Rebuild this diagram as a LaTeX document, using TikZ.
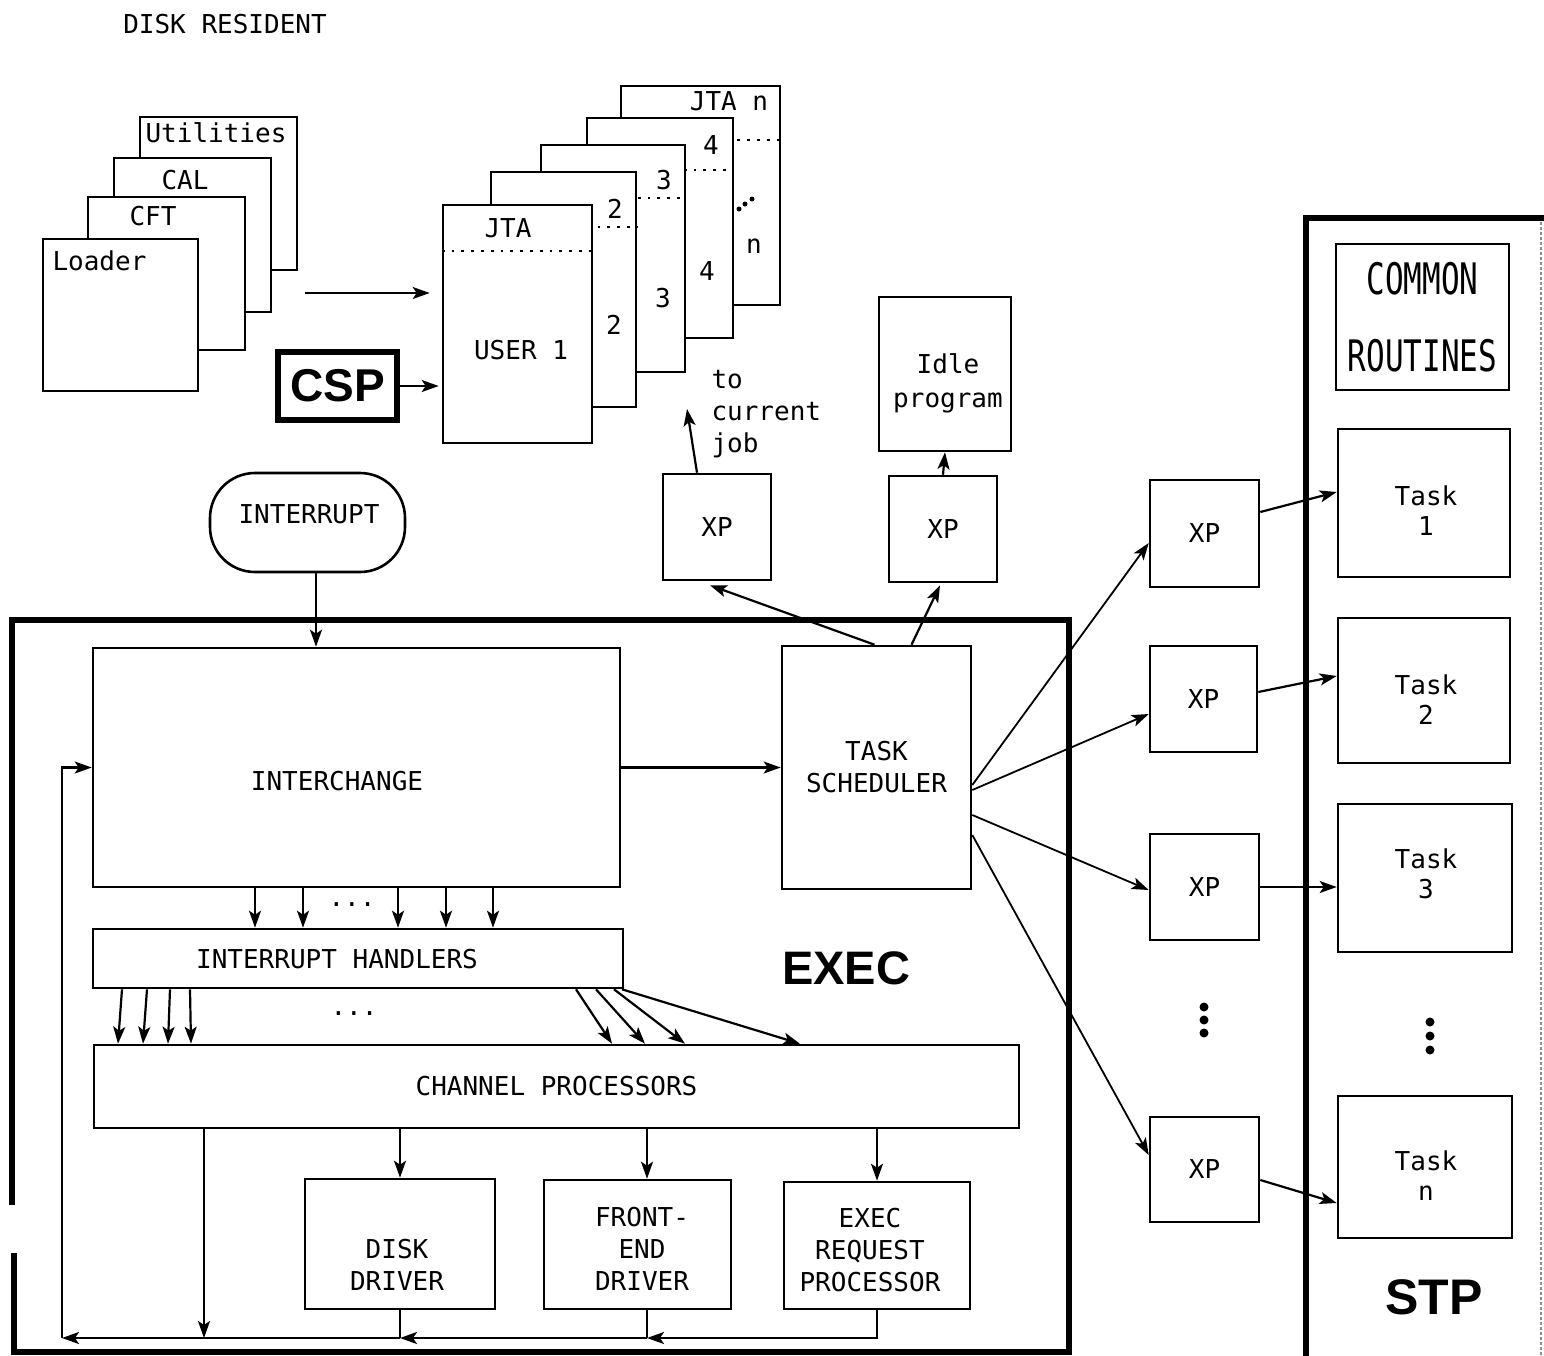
\documentclass[tikz,border=0pt]{standalone}
\usepackage{fontspec}
\usepackage{graphicx}
\setmainfont{DejaVu Sans Mono}
\newfontfamily\heavyfont{Liberation Sans}
\usetikzlibrary{arrows.meta,calc}

\begin{document}
\begin{tikzpicture}[x=1pt, y=-1pt,
		font=\fontsize{26}{32}\selectfont,
		box/.style={draw, line width=2.6pt, fill=white, inner sep=0pt},
		arr/.style={line width=2.2pt, -{Stealth[length=17pt,width=12pt,inset=4pt]}},
		thinarr/.style={line width=1.8pt, -{Stealth[length=17pt,width=12pt,inset=4pt]}},
		frame/.style={line width=6pt},
		dots/.style={line width=2.8pt, dash pattern=on 2.8pt off 7pt},
		big/.style={font=\heavyfont\bfseries\fontsize{47}{50}\selectfont}]

		\useasboundingbox (0,0) rectangle (1544,1355);

		% Disk resident programs, back to front
		\node (diskres) at (225,24) {DISK RESIDENT};
		\node[box, minimum width=157pt, minimum height=153pt] (util) at (218.5,193.5) {};
		\node (utiltxt) at (216,133) {Utilities};
		\node[box, minimum width=157pt, minimum height=154pt] (cal) at (192.5,235) {};
		\node (caltxt) at (185,180) {CAL};
		\node[box, minimum width=157pt, minimum height=153pt] (cft) at (166.5,273.5) {};
		\node (cfttxt) at (153,216) {CFT};
		\node[box, minimum width=155pt, minimum height=152pt] (loader) at (120.5,315) {};
		\node[anchor=west] (loadertxt) at (49,261) {Loader};

		% Job task areas, back to front
		\node[box, minimum width=159pt, minimum height=219pt] (jtan) at (700.5,195.5) {};
		\node (jtantxt) at (729,101) {JTA n};
		\draw[dots] (jtan.west |- 0,140) -- (jtan.east |- 0,140);
		\node (usrntxt) at (754,246) {n};
		\fill (739,209) circle (2.5pt) (745,204) circle (2.5pt) (752,199) circle (2.5pt);

		\node[box, minimum width=146pt, minimum height=220pt] (jta4) at (660,228) {};
		\node (jta4txt) at (711,145) {4};
		\draw[dots] (jta4.west |- 0,170) -- (jta4.east |- 0,170);
		\node (usr4txt) at (707,271) {4};

		\node[box, minimum width=144pt, minimum height=227pt] (jta3) at (613,258.5) {};
		\node (jta3txt) at (664,180) {3};
		\draw[dots] (jta3.west |- 0,198) -- (jta3.east |- 0,198);
		\node (usr3txt) at (663,298) {3};

		\node[box, minimum width=145pt, minimum height=235pt] (jta2) at (563.5,289.5) {};
		\node (jta2txt) at (615,209) {2};
		\draw[dots] (jta2.west |- 0,227) -- (jta2.east |- 0,227);
		\node (usr2txt) at (614,325) {2};

		\node[box, minimum width=149pt, minimum height=238pt] (user1) at (517.5,324) {};
		\node (jta1txt) at (508,228) {JTA};
		\draw[dots] (user1.west |- 0,251) -- (user1.east |- 0,251);
		\node (usr1txt) at (521,350) {USER 1};

		% Loading into the user area
		\coordinate (ldarr) at (305,293);
		\draw[arr] (ldarr) -- ($(ldarr -| user1.west)+(-12,0)$);
		\node[draw, line width=6pt, minimum width=119pt, minimum height=68pt, inner sep=0pt,
			font=\heavyfont\bfseries\fontsize{46}{50}\selectfont] (csp) at (337.5,386) {CSP};
		\draw[arr] (csp.east) -- ($(csp.east -| user1.west)+(-3,0)$);

		% Exchange packages above the scheduler
		\node[box, minimum width=108pt, minimum height=106pt] (xp1) at (717,527) {XP};
		\node[box, minimum width=108pt, minimum height=106pt] (xp2) at (943,529) {XP};
		\node[box, minimum width=132pt, minimum height=154pt] (idle) at (945,374) {};
		\node[align=center, font=\fontsize{26}{34}\selectfont] (idletxt) at (948,383) {Idle\\program};
		\node[align=left, anchor=west] (curjobtxt) at (708,414) {to\\current\\job};
		\coordinate (curjob) at (687,409);
		\draw[arr] ($(xp1.north)+(-20,0)$) -- (curjob);
		\draw[arr] (xp2.north) -- (idle.south);

		% Interrupt entry
		\node[box, rounded corners=45pt, minimum width=195pt, minimum height=99pt] (intr) at (307.5,522.5) {};
		\node (intrtxt) at (309,514) {INTERRUPT};

		% EXEC frame
		\draw[frame] (12,1205) -- (12,620) -- (1069,620) -- (1069,1352) -- (14,1352) -- (14,1253);
		\node[big] (exectxt) at (846,968) {EXEC};

		\node[box, minimum width=527pt, minimum height=239pt] (xchg) at (356.5,767.5) {};
		\node (xchgtxt) at (337,781) {INTERCHANGE};
		\node[box, minimum width=189pt, minimum height=243pt, align=center] (sched) at (876.5,767.5) {TASK\\SCHEDULER};
		\node[box, minimum width=530pt, minimum height=59pt] (hndl) at (358,958.5) {};
		\node (hndltxt) at (337,959) {INTERRUPT HANDLERS};
		\node[box, minimum width=925pt, minimum height=83pt] (chp) at (556.5,1086.5) {CHANNEL PROCESSORS};

		\node[box, minimum width=190pt, minimum height=130pt] (disk) at (400,1244) {};
		\node[align=center] (disktxt) at (397,1265) {DISK\\DRIVER};
		\node[box, minimum width=187pt, minimum height=129pt, align=center] (fe) at (637.5,1244.5) {};
		\node[align=center] (fetxt) at (642,1249) {FRONT-\\END\\DRIVER};
		\node[box, minimum width=186pt, minimum height=127pt] (erp) at (877,1245.5) {};
		\node[align=center] (erptxt) at (870,1250) {EXEC\\REQUEST\\PROCESSOR};

		% Connections inside EXEC
		\draw[arr] (intr.south -| 316,0) -- (xchg.north -| 316,0);
		\draw[arr] (xchg.east) -- (sched.west);
		\draw[arr] ($(sched.north)+(-2,0)$) -- ($(xp1.south)+(-7,4)$);
		\draw[arr] ($(sched.north)+(35,0)$) -- ($(xp2.south)+(-3,2)$);

		\foreach \x in {255, 303, 398, 446, 493} {
				\draw[arr] (xchg.south -| \x,0) -- (hndl.north -| \x,0);
			}
		\node (dotsa) at (352,905) {...};

		\foreach \a/\b in {122/118, 147/143, 170/168, 190/191, 576/612, 596/645, 614/685, 622/800} {
				\draw[arr] (hndl.south -| \a,0) -- (chp.north -| \b,0);
			}
		\node (dotsb) at (354,1014) {...};

		\draw[arr] (chp.south -| disk.north) -- (disk.north);
		\draw[arr] (chp.south -| 647,0) -- (fe.north -| 647,0);
		\draw[arr] (chp.south -| erp.north) -- (erp.north);

		% Return path to the interchange
		\coordinate (retl) at (62,1338);
		\coordinate (ret1) at (400,1338);
		\coordinate (ret2) at (647,1338);
		\draw[arr] (chp.south -| 204,0) -- (retl -| 204,0);
		\draw[arr] (erp.south) |- (ret2);
		\draw[line width=2.2pt] (fe.south -| ret2) -- (ret2);
		\draw[arr] (ret2) -- (ret1);
		\draw[line width=2.2pt] (disk.south) -- (ret1);
		\draw[arr] (ret1) -- (retl);
		\draw[arr] (retl) |- (xchg.west);

		% Exchange packages for the tasks
		\node[box, minimum width=109pt, minimum height=107pt] (xpa) at (1204.5,533.5) {XP};
		\node[box, minimum width=107pt, minimum height=106pt] (xpb) at (1203.5,699) {XP};
		\node[box, minimum width=109pt, minimum height=106pt] (xpc) at (1204.5,887) {XP};
		\node[box, minimum width=109pt, minimum height=105pt] (xpd) at (1204.5,1169.5) {XP};
		\foreach \y in {1007, 1020, 1033} {
				\fill (1204,\y) circle (4.5pt);
			}

		\draw[thinarr] (sched.east |- 0,785) -- (xpa.west |- 0,543);
		\draw[thinarr] (sched.east |- 0,790) -- (xpb.west |- 0,714);
		\draw[thinarr] (sched.east |- 0,815) -- (xpc.west |- 0,890);
		\draw[thinarr] (sched.east |- 0,835) -- (xpd.west |- 0,1155);

		% STP frame and tasks
		\draw[frame] (1306,1360) -- (1306,218) -- (1550,218);
		\draw[line width=1.5pt, black!45, densely dashed] (1541,222) -- (1541,1355);
		\node[box, minimum width=173pt, minimum height=146pt, align=center,
			font=\fontsize{31}{77}\selectfont] (common) at (1422.5,317)
			{\scalebox{1}[1.4]{COMMON}\\\scalebox{1}[1.4]{ROUTINES}};
		\node[box, minimum width=172pt, minimum height=148pt] (task1) at (1424,503) {};
		\node[align=center, font=\fontsize{26}{30}\selectfont] (task1txt) at (1426,511) {Task\\1};
		\node[box, minimum width=172pt, minimum height=145pt] (task2) at (1424,690.5) {};
		\node[align=center, font=\fontsize{26}{30}\selectfont] (task2txt) at (1426,700) {Task\\2};
		\node[box, minimum width=174pt, minimum height=148pt] (task3) at (1425,878) {};
		\node[align=center, font=\fontsize{26}{30}\selectfont] (task3txt) at (1426,874) {Task\\3};
		\foreach \y in {1022, 1036, 1050} {
				\fill (1430,\y) circle (4.5pt);
			}
		\node[box, minimum width=174pt, minimum height=142pt] (taskn) at (1425,1167) {};
		\node[align=center, font=\fontsize{26}{30}\selectfont] (taskntxt) at (1426,1176) {Task\\n};
		\node[font=\heavyfont\bfseries\fontsize{50}{52}\selectfont] (stptxt) at (1434,1297) {STP};

		\draw[arr] (xpa.east |- 0,512) -- (task1.west |- 0,492);
		\draw[arr] (xpb.east |- 0,692) -- (task2.west |- 0,676);
		\draw[arr] (xpc.east) -- (xpc.east -| task3.west);
		\draw[arr] (xpd.east |- 0,1180) -- (taskn.west |- 0,1203);
	\end{tikzpicture}
\end{document}
